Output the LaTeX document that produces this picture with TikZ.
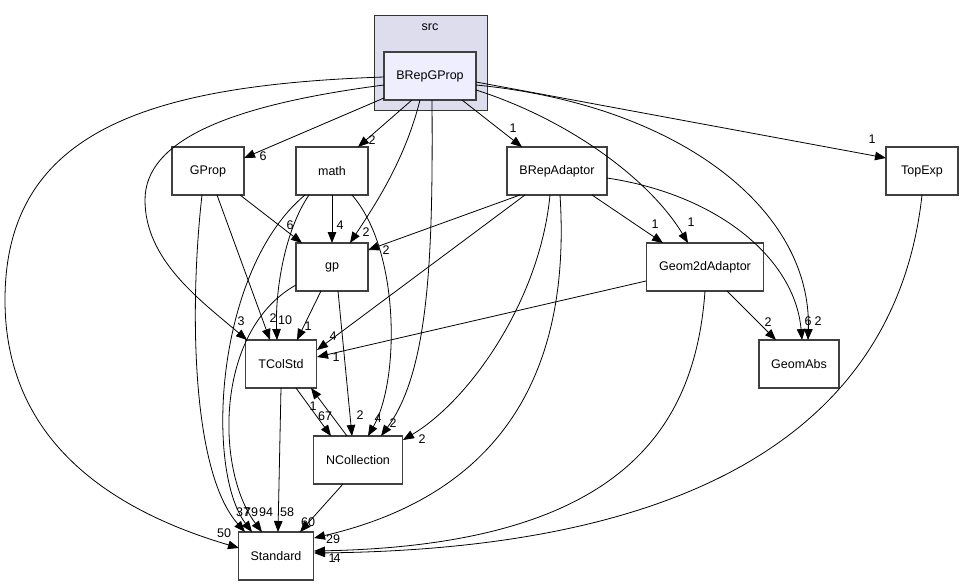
\documentclass[tikz,border=0pt]{standalone}
\usepackage{fontspec}
\setmainfont{Liberation Sans}
\usetikzlibrary{arrows.meta,calc}
\definecolor{clusterfill}{RGB}{221,221,238}
\definecolor{mainfill}{RGB}{238,238,255}
\begin{document}
\begin{tikzpicture}[x=1pt,y=-1pt,
  box/.style={draw=black!75,line width=1.3pt,fill=white,inner sep=0pt,minimum height=48pt,font=\fontsize{12.5}{14}\selectfont},
  e/.style={-{Triangle[length=11pt,width=8.5pt]},line width=0.8pt,black},
  lbl/.style={inner sep=0pt,font=\fontsize{12.5}{14}\selectfont}]
\useasboundingbox (0,0) rectangle (965,585);
% cluster
\node[draw=black!80,line width=0.8pt,fill=clusterfill,minimum width=113pt,minimum height=95pt,inner sep=0pt] (src) at (430.5,63) {};
\node[lbl] (srclabel) at (430,27) {src};
% nodes
\node[box,fill=mainfill,minimum width=92pt] (BRepGProp) at (430,76) {BRepGProp};
\node[box,minimum width=72pt] (GProp) at (208,171) {GProp};
\node[box,minimum width=72pt] (math) at (332,171) {math};
\node[box,minimum width=100pt] (BRepAdaptor) at (557,171) {BRepAdaptor};
\node[box,minimum width=72pt] (TopExp) at (922,171) {TopExp};
\node[box,minimum width=72pt] (gp) at (332,267) {gp};
\node[box,minimum width=117pt] (Geom2dAdaptor) at (705,267) {Geom2dAdaptor};
\node[box,minimum width=71pt] (TColStd) at (281,364) {TColStd};
\node[box,minimum width=80pt] (GeomAbs) at (799,364) {GeomAbs};
\node[box,minimum width=89pt] (NCollection) at (358,460) {NCollection};
\node[box,minimum width=75pt] (Standard) at (276,556) {Standard};
% edges from BRepGProp
\draw[e] ($(BRepGProp)+(-46,1)$) .. controls (150,85) and (5,130) .. (5,300) .. controls (5,440) and (110,510) .. ($(Standard)+(-37,-8)$);
\draw[e] ($(BRepGProp)+(-46,9)$) .. controls (230,105) and (145,140) .. (145,200) .. controls (145,260) and (200,300) .. ($(TColStd)+(-34,-24)$);
\draw[e] ($(BRepGProp)+(-46,22)$) -- ($(GProp)+(36,-13)$);
\draw[e] ($(BRepGProp)+(-18,24)$) -- ($(math)+(26,-24)$);
\draw[e] ($(BRepGProp)+(-10,24)$) .. controls (405,160) and (375,205) .. ($(gp)+(18,-24)$);
\draw[e] ($(BRepGProp)+(2,24)$) .. controls (433,250) and (430,370) .. ($(NCollection)+(23,-24)$);
\draw[e] ($(BRepGProp)+(32,24)$) -- ($(BRepAdaptor)+(-35,-24)$);
\draw[e] ($(BRepGProp)+(46,14)$) .. controls (570,120) and (650,180) .. ($(Geom2dAdaptor)+(-17,-24)$);
\draw[e] ($(BRepGProp)+(46,9)$) .. controls (680,105) and (812,210) .. ($(GeomAbs)+(9,-24)$);
\draw[e] ($(BRepGProp)+(46,6)$) -- ($(TopExp)+(-36,-13)$);
% GProp
\draw[e] ($(GProp)+(32,24)$) -- ($(gp)+(-30,-24)$);
\draw[e] ($(GProp)+(9,24)$) -- ($(TColStd)+(-11,-24)$);
\draw[e] ($(GProp)+(-6,24)$) .. controls (190,300) and (190,470) .. ($(Standard)+(-31,-24)$);
% math
\draw[e] ($(math)+(0,24)$) -- ($(gp)+(0,-24)$);
\draw[e] ($(math)+(-23,24)$) .. controls (285,230) and (275,290) .. ($(TColStd)+(-4,-24)$);
\draw[e] ($(math)+(-27,24)$) .. controls (215,270) and (205,470) .. ($(Standard)+(-24,-24)$);
\draw[e] ($(math)+(20,24)$) .. controls (400,250) and (400,380) .. ($(NCollection)+(10,-24)$);
% BRepAdaptor
\draw[e] ($(BRepAdaptor)+(-37,24)$) -- ($(gp)+(36,-17)$);
\draw[e] ($(BRepAdaptor)+(-32,24)$) -- ($(TColStd)+(36,-14)$);
\draw[e] ($(BRepAdaptor)+(35,24)$) -- ($(Geom2dAdaptor)+(-42,-24)$);
\draw[e] ($(BRepAdaptor)+(50,7)$) .. controls (720,195) and (795,260) .. ($(GeomAbs)+(3,-24)$);
\draw[e] ($(BRepAdaptor)+(-7,24)$) .. controls (540,300) and (470,400) .. ($(NCollection)+(45,-20)$);
\draw[e] ($(BRepAdaptor)+(3,24)$) .. controls (570,350) and (520,490) .. ($(Standard)+(38,-18)$);
% gp
\draw[e] ($(gp)+(-11,24)$) -- ($(TColStd)+(16,-24)$);
\draw[e] ($(gp)+(6,24)$) -- ($(NCollection)+(-6,-24)$);
\draw[e] ($(gp)+(-36,18)$) .. controls (215,330) and (215,470) .. ($(Standard)+(-14,-24)$);
% Geom2dAdaptor
\draw[e] ($(Geom2dAdaptor)+(-59,14)$) -- ($(TColStd)+(36,-7)$);
\draw[e] ($(Geom2dAdaptor)+(22,24)$) -- ($(GeomAbs)+(-23,-24)$);
\draw[e] ($(Geom2dAdaptor)+(0,24)$) .. controls (695,430) and (620,545) .. ($(Standard)+(38,-5)$);
% TopExp
\draw[e] ($(TopExp)+(0,24)$) .. controls (905,350) and (800,548) .. ($(Standard)+(38,-3)$);
% TColStd
\draw[e] ($(TColStd)+(15,24)$) -- ($(NCollection)+(-27,-24)$);
\draw[e] ($(TColStd)+(0,24)$) -- ($(Standard)+(2,-24)$);
% NCollection
\draw[e] ($(NCollection)+(-11,-24)$) -- ($(TColStd)+(30,24)$);
\draw[e] ($(NCollection)+(-15,24)$) -- ($(Standard)+(24,-24)$);
% labels
\node[lbl] (l1) at (224,533) {50};
\node[lbl] (l2) at (241,321) {3};
\node[lbl] (l3) at (263,156) {6};
\node[lbl] (l4) at (372,140) {2};
\node[lbl] (l5) at (366,232) {2};
\node[lbl] (l6) at (393,423) {2};
\node[lbl] (l7) at (513,128) {1};
\node[lbl] (l8) at (691,222) {1};
\node[lbl] (l9) at (818,321) {2};
\node[lbl] (l10) at (872,139) {1};
\node[lbl] (l11) at (290,225) {6};
\node[lbl] (l12) at (273,318) {2};
\node[lbl] (l13) at (285,320) {10};
\node[lbl] (l14) at (340,225) {4};
\node[lbl] (l15) at (378,418) {4};
\node[lbl] (l16) at (386,250) {2};
\node[lbl] (l17) at (333,336) {4};
\node[lbl] (l18) at (655,224) {1};
\node[lbl] (l19) at (808,321) {6};
\node[lbl] (l20) at (422,439) {2};
\node[lbl] (l21) at (333,539) {29};
\node[lbl] (l22) at (308,326) {1};
\node[lbl] (l23) at (360,415) {2};
\node[lbl] (l24) at (336,357) {1};
\node[lbl] (l25) at (768,322) {2};
\node[lbl] (l26) at (332,558) {1};
\node[lbl] (l27) at (337,558) {4};
\node[lbl] (l28) at (325,416) {67};
\node[lbl] (l29) at (313,406) {1};
\node[lbl] (l30) at (287,512) {58};
\node[lbl] (l31) at (308,522) {60};
\node[lbl] (l32) at (243,512) {37};
\node[lbl] (l33) at (251,512) {79};
\node[lbl] (l34) at (266,512) {94};
\end{tikzpicture}
\end{document}
